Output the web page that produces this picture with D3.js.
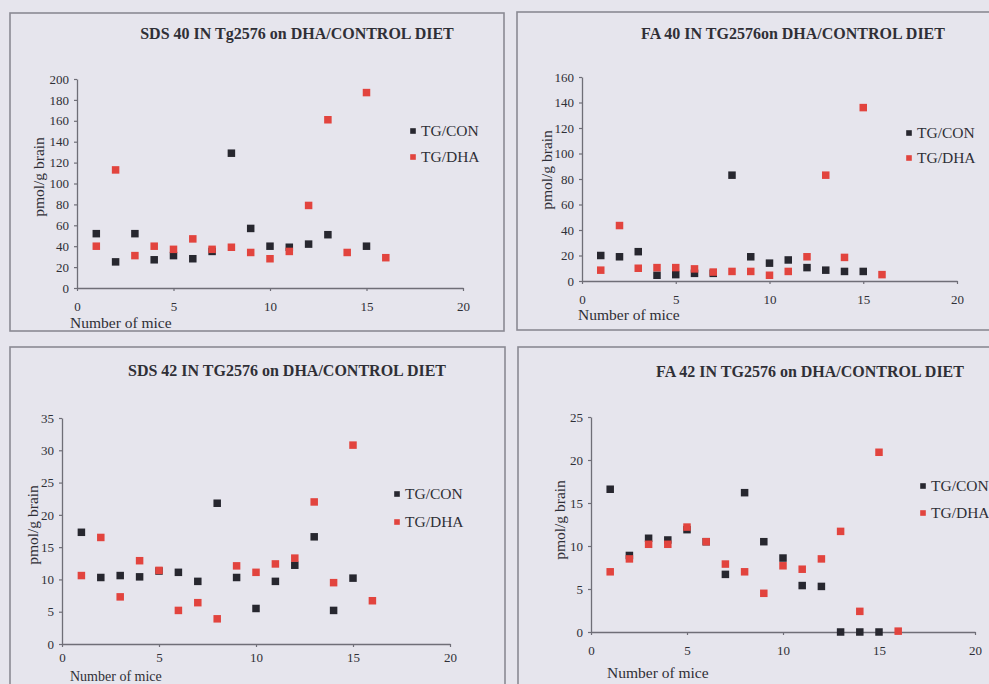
<!DOCTYPE html>
<html>
<head>
<meta charset="utf-8">
<script src="https://cdn.jsdelivr.net/npm/d3@7"></script>
<style>
  html, body { margin: 0; padding: 0; background: #e6e5ed; }
  svg { display: block; }
  text { font-family: "Liberation Serif", "Times New Roman", serif; fill: #2f2f36; }
</style>
</head>
<body>
<svg id="chart" width="989" height="684"></svg>
<script>
// Mouse numbers (x axis) for each group
const miceCon = [1, 2, 3, 4, 5, 6, 7, 8, 9, 10, 11, 12, 13, 14, 15];
const miceDha = [1, 2, 3, 4, 5, 6, 7, 8, 9, 10, 11, 12, 13, 14, 15, 16];

// SDS 40 (pmol/g brain)
const sds40Con = [52, 25, 52, 27, 31, 28, 35, 129, 57, 40, 39, 42, 51, null, 40];
const sds40Dha = [40, 113, 31, 40, 37, 47, 37, 39, 34, 28, 35, 79, 161, 34, 187, 29];

// FA 40 (pmol/g brain)
const fa40Con = [20, 19, 23, 4.5, 5, 6, 6, 83, 19, 14, 16.5, 10.5, 8.5, 7.5, 7.5];
const fa40Dha = [8.5, 43.5, 10, 10.5, 10.5, 9.5, 7, 7.5, 7.5, 4.5, 7.5, 19, 83, 18.5, 136, 5];

// SDS 42 (pmol/g brain)
const sds42Con = [17.3, 10.3, 10.6, 10.4, 11.3, 11.1, 9.7, 21.8, 10.3, 5.5, 9.7, 12.2, 16.6, 5.2, 10.2];
const sds42Dha = [10.6, 16.5, 7.3, 12.9, 11.4, 5.2, 6.4, 3.9, 12.1, 11.1, 12.4, 13.3, 22.0, 9.5, 30.8, 6.7];

// FA 42 (pmol/g brain)
const fa42Con = [16.6, 8.9, 10.9, 10.7, 11.9, 10.5, 6.7, 16.2, 10.5, 8.6, 5.4, 5.3, 0, 0, 0];
const fa42Dha = [7.0, 8.5, 10.2, 10.2, 12.2, 10.5, 7.9, 7.0, 4.5, 7.7, 7.3, 8.5, 11.7, 2.4, 20.9, 0.1];

// Axis ticks
const xTicks = [0, 5, 10, 15, 20];
const sds40Ticks = [0, 20, 40, 60, 80, 100, 120, 140, 160, 180, 200];
const fa40Ticks = [0, 20, 40, 60, 80, 100, 120, 140, 160];
const sds42Ticks = [0, 5, 10, 15, 20, 25, 30, 35];
const fa42Ticks = [0, 5, 10, 15, 20, 25];

// Text
const titles = [
  "SDS 40 IN Tg2576 on DHA/CONTROL DIET",
  "FA 40 IN TG2576on DHA/CONTROL DIET",
  "SDS 42 IN TG2576 on DHA/CONTROL DIET",
  "FA 42 IN TG2576 on DHA/CONTROL DIET"
];
const seriesNames = ["TG/CON", "TG/DHA"];
const yLabel = "pmol/g brain";
const xLabel = "Number of mice";

const colors = ["#27272f", "#e2443e"];

// Panel geometry
const panels = [
  { frame: [10, 13, 504, 331], px: [77, 463], py: [288, 79], yMax: 200, yTicks: sds40Ticks,
    con: sds40Con, dha: sds40Dha, titleX: 297, titleY: 33, leg: [413, 131, 26], yLab: [39, 177],
    xLab: [70, 323], xLabSize: 15.5, xPad: 11 },
  { frame: [517, 12, 1000, 330], px: [582, 957], py: [281, 77], yMax: 160, yTicks: fa40Ticks,
    con: fa40Con, dha: fa40Dha, titleX: 793, titleY: 33, leg: [909, 133, 25], yLab: [547, 170],
    xLab: [578, 315], xLabSize: 15.5, xPad: 11 },
  { frame: [10, 347, 505, 700], px: [62, 450], py: [644, 418], yMax: 35, yTicks: sds42Ticks,
    con: sds42Con, dha: sds42Dha, titleX: 287, titleY: 370, leg: [397, 494, 28], yLab: [33, 525],
    xLab: [70, 676], xLabSize: 14, xPad: 6 },
  { frame: [518, 347, 1000, 700], px: [591, 975], py: [632, 417], yMax: 25, yTicks: fa42Ticks,
    con: fa42Con, dha: fa42Dha, titleX: 810, titleY: 371, leg: [923, 486, 27], yLab: [560, 520],
    xLab: [607, 673], xLabSize: 15.5, xPad: 11 }
];

const svg = d3.select("#chart");

panels.forEach((p, i) => {
  const g = svg.append("g");

  // panel frame
  g.append("rect")
    .attr("x", p.frame[0]).attr("y", p.frame[1])
    .attr("width", p.frame[2] - p.frame[0]).attr("height", p.frame[3] - p.frame[1])
    .attr("fill", "none").attr("stroke", "#8b8a93").attr("stroke-width", 1.6);

  const x = d3.scaleLinear().domain([0, 20]).range(p.px);
  const y = d3.scaleLinear().domain([0, p.yMax]).range(p.py);

  // axes
  const yAxis = g.append("g").attr("transform", `translate(${p.px[0]},0)`)
    .call(d3.axisLeft(y).tickValues(p.yTicks).tickSize(3).tickPadding(5).tickSizeOuter(0));
  const xAxis = g.append("g").attr("transform", `translate(0,${p.py[0]})`)
    .call(d3.axisBottom(x).tickValues(xTicks).tickSize(3).tickPadding(p.xPad).tickSizeOuter(0));
  [yAxis, xAxis].forEach(a => {
    a.attr("font-family", null);
    a.select(".domain").attr("stroke", "#6f6e77").attr("stroke-width", 1.3);
    a.selectAll(".tick line").attr("stroke", "#6f6e77").attr("stroke-width", 1.2);
    a.selectAll(".tick text")
      .style("font-family", "'Liberation Serif', serif")
      .style("font-size", "13px").attr("fill", "#3a3a42");
  });

  // title
  g.append("text")
    .attr("x", p.titleX).attr("y", p.titleY).attr("dy", "0.35em")
    .attr("text-anchor", "middle")
    .style("font-size", "16px").style("font-weight", "bold")
    .text(titles[i]);

  // axis titles
  g.append("text")
    .attr("transform", `translate(${p.yLab[0]},${p.yLab[1]}) rotate(-90)`)
    .attr("text-anchor", "middle").attr("dy", "0.35em")
    .style("font-size", "15.5px")
    .text(yLabel);
  g.append("text")
    .attr("x", p.xLab[0]).attr("y", p.xLab[1]).attr("dy", "0.35em")
    .style("font-size", p.xLabSize + "px")
    .text(xLabel);

  // markers
  const series = [
    miceCon.map((m, k) => ({ m, v: p.con[k] })).filter(d => d.v !== null),
    miceDha.map((m, k) => ({ m, v: p.dha[k] })).filter(d => d.v !== null)
  ];
  const s = 7.5;
  series.forEach((data, si) => {
    g.append("g").selectAll("rect").data(data).join("rect")
      .attr("x", d => x(d.m) - s / 2).attr("y", d => y(d.v) - s / 2)
      .attr("width", s).attr("height", s)
      .attr("fill", colors[si]);
  });

  // legend
  seriesNames.forEach((name, si) => {
    const ly = p.leg[1] + si * p.leg[2];
    g.append("rect")
      .attr("x", p.leg[0] - 2.8).attr("y", ly - 2.8)
      .attr("width", 5.6).attr("height", 5.6)
      .attr("fill", colors[si]);
    g.append("text")
      .attr("x", p.leg[0] + 8).attr("y", ly).attr("dy", "0.35em")
      .style("font-size", "15.5px")
      .text(name);
  });
});
</script>
</body>
</html>
